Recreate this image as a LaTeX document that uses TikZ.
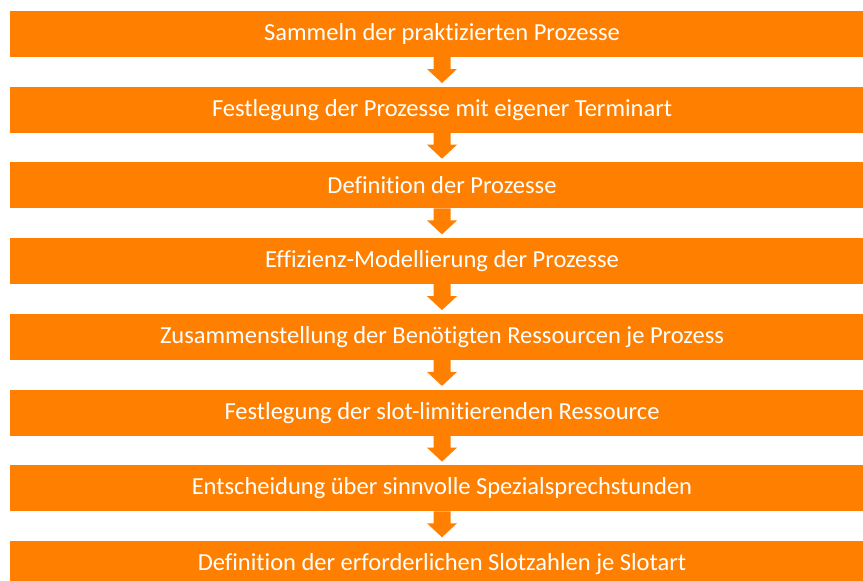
\documentclass[tikz,border=0pt]{standalone}
\usepackage{fontspec}
\setmainfont{Carlito}[Ligatures={NoCommon}]
\usetikzlibrary{calc}
\definecolor{stepfill}{RGB}{255,128,0}
\tikzset{
  stepbox/.style={fill=stepfill, text=white, minimum width=864pt, minimum height=46pt,
    inner sep=0pt, outer sep=0pt, font=\fontsize{24.5}{29}\selectfont},
  steparrow/.style={fill=stepfill}
}
% down arrow hanging below a step box
\newcommand{\downarrowbelow}[1]{%
  \fill[steparrow] ($(#1.south)+(-8.5,0)$) -- ++(0,12) -- ++(-6.5,0) -- ($(#1.south)+(0,26)$)
    -- ($(#1.south)+(15,12)$) -- ++(-6.5,0) -- ($(#1.south)+(8.5,0)$) -- cycle;}
\begin{document}
\begin{tikzpicture}[x=1pt,y=-1pt]
\useasboundingbox (0,0) rectangle (863,581);
\clip (0,0) rectangle (863,581);
\node[stepbox] (s1) at (442,34) {Sammeln der praktizierten Prozesse};
\node[stepbox] (s2) at (442,109.7) {Festlegung der Prozesse mit eigener Terminart};
\node[stepbox] (s3) at (442,185.4) {Definition der Prozesse};
\node[stepbox] (s4) at (442,261.1) {Effizienz-Modellierung der Prozesse};
\node[stepbox] (s5) at (442,336.9) {Zusammenstellung der Benötigten Ressourcen je Prozess};
\node[stepbox] (s6) at (442,412.6) {Festlegung der slot-limitierenden Ressource};
\node[stepbox] (s7) at (442,488.3) {Entscheidung über sinnvolle Spezialsprechstunden};
\node[stepbox] (s8) at (442,564) {Definition der erforderlichen Slotzahlen je Slotart};
\foreach \s in {s1,s2,s3,s4,s5,s6,s7}{\downarrowbelow{\s}}
\end{tikzpicture}
\end{document}
